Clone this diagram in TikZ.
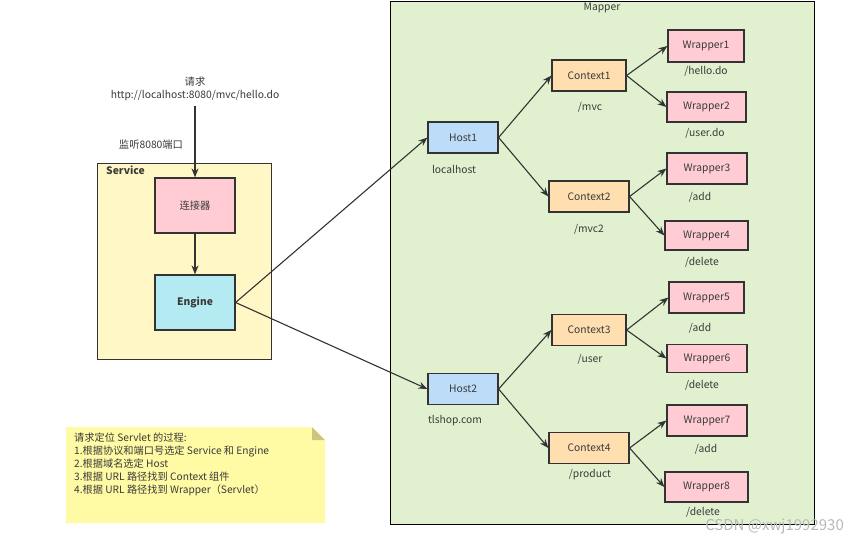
\documentclass[tikz,border=0pt]{standalone}
\usepackage{fontspec}
\setmainfont{Noto Sans CJK SC}
\usetikzlibrary{arrows.meta}
\definecolor{txt}{HTML}{3A3A3A}
\definecolor{edge}{HTML}{333333}
\definecolor{mapfill}{HTML}{E1F1CF}
\definecolor{svcfill}{HTML}{FFF8C6}
\definecolor{pinkfill}{HTML}{FFCCD4}
\definecolor{cyanfill}{HTML}{B4EAF2}
\definecolor{bluefill}{HTML}{BCDCF8}
\definecolor{peachfill}{HTML}{FFDFB0}
\definecolor{notefill}{HTML}{FFFAA4}
\definecolor{foldfill}{HTML}{CBC67C}
\tikzset{
  box/.style={draw=edge, line width=1.2pt, minimum height=31pt, inner sep=0pt, font=\fontsize{10.3}{12}\selectfont, text=txt},
  wrapbox/.style={box, fill=pinkfill, minimum width=78pt},
  ctxbox/.style={box, fill=peachfill, minimum width=76pt},
  hostbox/.style={box, fill=bluefill, minimum width=70pt},
  lbl/.style={font=\fontsize{10.3}{12}\selectfont, text=txt, inner sep=0pt},
  arr/.style={draw=edge, line width=1.1pt, -{Stealth[length=9pt,width=7pt]}},
}
\begin{document}
\begin{tikzpicture}[x=1pt,y=-1pt]
\useasboundingbox (0,0) rectangle (858,544);
\fill[white] (0,0) rectangle (858,544);
% Mapper
\node[draw=black, line width=1.3pt, fill=mapfill, minimum width=424pt, minimum height=523pt, anchor=north west, inner sep=0pt] (mapper) at (390,0.7) {};
\node[lbl] (mapperlbl) at (602,8) {Mapper};
% Service
\node[draw=edge, line width=1.2pt, fill=svcfill, minimum width=174pt, minimum height=196pt, anchor=north west, inner sep=0pt] (service) at (97,163) {};
\node[lbl, font=\fontsize{10.3}{12}\selectfont\bfseries, anchor=west] (servicelbl) at (106,170) {Service};
\node[box, fill=pinkfill, minimum width=80pt, minimum height=55pt] (conn) at (195,205.5) {连接器};
\node[box, fill=cyanfill, minimum width=80pt, minimum height=55pt, font=\fontsize{10.3}{12}\selectfont\bfseries] (engine) at (195,302.5) {Engine};
% request
\node[lbl] (req1) at (195,82) {请求};
\node[lbl] (req2) at (195,96) {http://localhost:8080/mvc/hello.do};
\coordinate (reqstart) at (195,106);
\node[lbl] (listen) at (151,145) {监听8080端口};
\draw[arr] (reqstart) -- (conn.north);
\draw[arr] (conn.south) -- (engine.north);
% Hosts
\node[hostbox] (host1) at (463,137.5) {Host1};
\node[lbl] (host1l) at (454,169) {localhost};
\node[hostbox] (host2) at (463,389) {Host2};
\node[lbl] (host2l) at (455,421) {tlshop.com};
% Contexts
\node[ctxbox, minimum width=74pt] (ctx1) at (589,75.5) {Context1};
\node[lbl] (ctx1l) at (590,107) {/mvc};
\node[ctxbox, minimum width=80pt] (ctx2) at (589,196.5) {Context2};
\node[lbl] (ctx2l) at (589,229) {/mvc2};
\node[ctxbox, minimum width=74pt] (ctx3) at (589,330) {Context3};
\node[lbl] (ctx3l) at (590,359) {/user};
\node[ctxbox, minimum width=80pt] (ctx4) at (589,448) {Context4};
\node[lbl] (ctx4l) at (590,475) {/product};
% Wrappers
\node[wrapbox, minimum width=76pt, minimum height=32pt] (w1) at (706,46) {Wrapper1};
\node[lbl] (w1l) at (706,71) {/hello.do};
\node[wrapbox, minimum width=79pt, minimum height=30pt] (w2) at (706.5,107) {Wrapper2};
\node[lbl] (w2l) at (705,133) {/user.do};
\node[wrapbox, minimum width=80pt] (w3) at (707,168.5) {Wrapper3};
\node[lbl] (w3l) at (700,197) {/add};
\node[wrapbox, minimum width=83pt, minimum height=29pt] (w4) at (706.5,235.5) {Wrapper4};
\node[lbl] (w4l) at (702,262) {/delete};
\node[wrapbox, minimum width=75pt] (w5) at (706.5,297.5) {Wrapper5};
\node[lbl] (w5l) at (700,328) {/add};
\node[wrapbox, minimum width=80pt, minimum height=28pt] (w6) at (707,358.5) {Wrapper6};
\node[lbl] (w6l) at (702,385) {/delete};
\node[wrapbox, minimum width=80pt] (w7) at (707,420.5) {Wrapper7};
\node[lbl] (w7l) at (706,449) {/add};
\node[wrapbox, minimum width=83pt, minimum height=30pt] (w8) at (706.5,487) {Wrapper8};
\node[lbl] (w8l) at (703,512) {/delete};
% connectors
\draw[arr] (engine.east) -- (host1.west);
\draw[arr] (engine.east) -- (host2.west);
\draw[arr] (host1.east) -- (ctx1.west);
\draw[arr] (host1.east) -- (ctx2.west);
\draw[arr] (host2.east) -- (ctx3.west);
\draw[arr] (host2.east) -- (ctx4.west);
\draw[arr] (ctx1.east) -- (w1.west);
\draw[arr] (ctx1.east) -- (w2.west);
\draw[arr] (ctx2.east) -- (w3.west);
\draw[arr] (ctx2.east) -- (w4.west);
\draw[arr] (ctx3.east) -- (w5.west);
\draw[arr] (ctx3.east) -- (w6.west);
\draw[arr] (ctx4.east) -- (w7.west);
\draw[arr] (ctx4.east) -- (w8.west);
% note
\fill[notefill] (66,427) -- (312,427) -- (325,440) -- (325,523) -- (66,523) -- cycle;
\fill[foldfill] (312,427) -- (325,440) -- (312,440) -- cycle;
\node[lbl, anchor=north west, align=left, font=\fontsize{10.2}{13}\selectfont] (note) at (74,433) {请求定位 Servlet 的过程:\\1.根据协议和端口号选定 Service 和 Engine\\2.根据域名选定 Host\\3.根据 URL 路径找到 Context 组件\\4.根据 URL 路径找到 Wrapper（Servlet）};
% watermark
\node[lbl, font=\fontsize{15}{17}\selectfont, text=gray!55, anchor=east] (wm) at (844,526) {CSDN @xwj1992930};
\end{tikzpicture}
\end{document}
